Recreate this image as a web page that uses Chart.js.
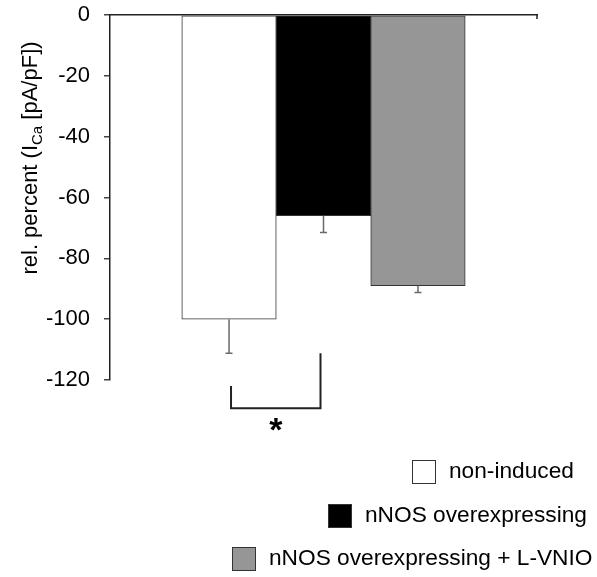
<!DOCTYPE html>
<html>
<head>
<meta charset="utf-8">
<script src="https://cdn.jsdelivr.net/npm/chart.js@4.4.1/dist/chart.umd.min.js"></script>
<style>
  html, body { margin: 0; padding: 0; background: #fff; }
  #wrap { width: 597px; height: 577px; }
</style>
</head>
<body>
<div id="wrap"><canvas id="chart" width="597" height="577"></canvas></div>
<script>
"use strict";

const groups = ["non-induced", "nNOS overexpressing", "nNOS overexpressing + L-VNIO"];
const means = [-100, -66, -89];
const errors = [11.2, 5.5, 2.2];
const barColors = ["#ffffff", "#000000", "#969696"];
const yTicks = [0, -20, -40, -60, -80, -100, -120];

// bracket between group 0 and 1 (start value left, start value right, bottom value)
const bracket = { left: 0, right: 1, leftTop: -122, rightTop: -111.2, bottom: -129.3 };

const font = "'Liberation Sans', Arial, sans-serif";

const errorBars = {
  id: "errorBars",
  afterDatasetsDraw(chart) {
    const ctx = chart.ctx;
    const x = chart.scales.x;
    const y = chart.scales.y;
    ctx.save();
    ctx.strokeStyle = "#6a6a6a";
    ctx.lineWidth = 1.5;
    for (let i = 0; i < means.length; i++) {
      const px = x.getPixelForValue(i + 1);
      const y0 = y.getPixelForValue(means[i]);
      const y1 = y.getPixelForValue(means[i] - errors[i]);
      ctx.beginPath();
      ctx.moveTo(px, y0);
      ctx.lineTo(px, y1);
      ctx.moveTo(px - 3.5, y1);
      ctx.lineTo(px + 3.5, y1);
      ctx.stroke();
    }
    ctx.restore();
  }
};

const extras = {
  id: "extras",
  afterDraw(chart) {
    const ctx = chart.ctx;
    const x = chart.scales.x;
    const y = chart.scales.y;
    const area = chart.chartArea;
    ctx.save();

    // small tick at right end of the zero line
    ctx.strokeStyle = "#222";
    ctx.lineWidth = 1.5;
    ctx.beginPath();
    ctx.moveTo(area.right, area.top);
    ctx.lineTo(area.right, area.top + 4);
    ctx.stroke();

    // significance bracket
    const bl = x.getPixelForValue(bracket.left + 1) + 2;
    const br = x.getPixelForValue(bracket.right + 1) - 3;
    ctx.strokeStyle = "#222";
    ctx.lineWidth = 2;
    ctx.beginPath();
    ctx.moveTo(bl, y.getPixelForValue(bracket.leftTop));
    ctx.lineTo(bl, y.getPixelForValue(bracket.bottom));
    ctx.lineTo(br, y.getPixelForValue(bracket.bottom));
    ctx.lineTo(br, y.getPixelForValue(bracket.rightTop));
    ctx.stroke();
    ctx.fillStyle = "#000";
    ctx.font = "bold 34px " + font;
    ctx.textAlign = "center";
    ctx.textBaseline = "top";
    ctx.fillText("*", (bl + br) / 2, y.getPixelForValue(bracket.bottom) + 6);

    // y axis title with subscript
    ctx.translate(37, 158);
    ctx.rotate(-Math.PI / 2);
    ctx.textBaseline = "alphabetic";
    ctx.textAlign = "left";
    const main = "22px " + font;
    const sub = "15px " + font;
    const parts = [
      ["rel. percent (I", main, 0],
      ["Ca", sub, 5],
      [" [pA/pF])", main, 0]
    ];
    let total = 0;
    for (const p of parts) {
      ctx.font = p[1];
      total += ctx.measureText(p[0]).width;
    }
    let cx = -total / 2;
    for (const p of parts) {
      ctx.font = p[1];
      ctx.fillText(p[0], cx, p[2]);
      cx += ctx.measureText(p[0]).width;
    }
    ctx.setTransform(1, 0, 0, 1, 0, 0);

    // legend, one row per group
    const boxLeft = [412, 328, 232];
    const rowTop = [460, 504, 547];
    ctx.font = "22.7px " + font;
    ctx.textAlign = "left";
    ctx.textBaseline = "middle";
    for (let i = 0; i < groups.length; i++) {
      ctx.fillStyle = barColors[i];
      ctx.fillRect(boxLeft[i], rowTop[i], 23, 23);
      ctx.strokeStyle = "#333";
      ctx.lineWidth = 1;
      ctx.strokeRect(boxLeft[i] + 0.5, rowTop[i] + 0.5, 23, 23);
      ctx.fillStyle = "#000";
      ctx.fillText(groups[i], boxLeft[i] + 37, rowTop[i] + 12);
    }
    ctx.restore();
  }
};

function noPadding(scale) {
  scale.paddingTop = 0;
  scale.paddingBottom = 0;
  scale.paddingLeft = 0;
  scale.paddingRight = 0;
}

new Chart(document.getElementById("chart"), {
  type: "bar",
  data: {
    datasets: [{
      data: means.map((v, i) => ({ x: i + 1, y: v })),
      backgroundColor: barColors,
      borderColor: "#333",
      borderWidth: 1,
      borderSkipped: false,
      categoryPercentage: 1,
      barPercentage: 1
    }]
  },
  options: {
    responsive: false,
    animation: false,
    layout: { padding: { left: 0, top: 15, right: 60, bottom: 197 } },
    plugins: { legend: { display: false }, tooltip: { enabled: false } },
    scales: {
      x: {
        type: "linear",
        position: "top",
        offset: false,
        min: -0.26,
        max: 4.26,
        afterBuildTicks(scale) { scale.ticks = [{ value: 1 }, { value: 2 }, { value: 3 }]; },
        ticks: { display: false },
        grid: { display: false },
        border: { display: true, color: "#222", width: 1.5 },
        afterFit(scale) { scale.height = 0; noPadding(scale); }
      },
      y: {
        min: -120,
        max: 0,
        afterBuildTicks(scale) { scale.ticks = yTicks.map(v => ({ value: v })); },
        ticks: { color: "#000", font: { size: 22, family: font }, padding: 14 },
        grid: { drawOnChartArea: false, drawTicks: true, tickLength: 6, color: "#444", lineWidth: 1.5 },
        border: { display: true, color: "#222", width: 1.5 },
        afterFit(scale) { scale.width = 110; noPadding(scale); }
      }
    }
  },
  plugins: [errorBars, extras]
});
</script>
</body>
</html>
